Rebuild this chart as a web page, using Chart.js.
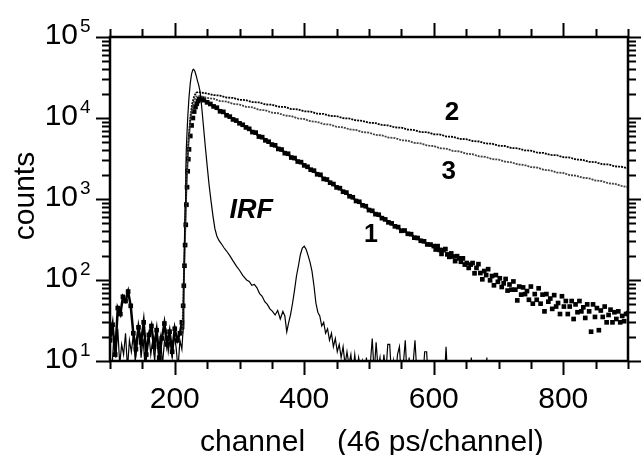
<!DOCTYPE html>
<html>
<head>
<meta charset="utf-8">
<script src="https://cdn.jsdelivr.net/npm/chart.js@4/dist/chart.umd.min.js"></script>
<style>
  html, body { margin: 0; padding: 0; background: #fff; }
  #wrap { width: 641px; height: 455px; position: relative; }
</style>
</head>
<body>
<div id="wrap"><canvas id="decay-chart"></canvas></div>
<script>
// Fluorescence decay curves, counts (log) vs channel (46 ps/channel)

const xTickLabels = [200, 400, 600, 800];
const yTickExponents = [1, 2, 3, 4, 5];

// instrument response function
const irfChannels = [100,103,106,109,112,115,118,121,124,127,130,133,136,139,142,145,148,151,154,157,160,163,166,169,172,175,178,181,184,187,190,193,196,199,202,205,208,211,
  213,214,215,216,217,218,220,222,224,226,228,229,231,233,235,237,239,241,244,247,250,253,256,259,262,265,268,272,276,280,285,290,296,300,305,311,315,319,323,327,331,335,339,343,347,351,355,359,363,367,370,373,376,379,382,385,388,391,394,397,400,403,406,409,412,415,418,421,424,427,430,433,436,439,442,445,448,451,454,457,460,463,466,469,472,475,478,481,484,487,490,493,496,499,502,505,508,511,514,517,520,523,526,529,532,535,538,541,544,547,550,553,556,559,562,565,568,571,574,577,580,583,586,589,592,595,598,601,604,607,610,613,616,619,622,625,640,656,658,660,680,682,684,700];
const irfCounts = [12,8,20,11,25,9,16,12,22,8,18,13,21,10,17,24,11,19,9,15,22,12,18,10,24,14,20,9,17,23,13,19,11,21,15,8,18,14,
  25,90,300,900,2200,4500,10000,18000,27000,35000,39500,40000,38000,33500,29000,25500,21500,15500,8500,4600,2600,1500,950,620,430,350,310,280,250,228,200,172,145,132,114,100,96,86,88,80,68,63,54,50,44,41,37,42,33,41,36,23,30,38,52,75,112,150,205,248,262,238,200,165,128,85,52,40,36,27,30,22,25,18,22,15,19,13,16,11,15,9,13,9,12,7,12,7,11,8,10,6,11,6,9,19,7,17,8,11,6,12,7,16,16,6,10,6,12,15,6,9,18,6,11,6,9,18,7,5,10,6,13,13,5,8,5,6,5,6,5,6,5,15,5,6,5,5,11,5,5,11,5,5];

// curve 1
const curve1Channels = [100,104,108,112,116,120,124,128,132,136,140,144,148,152,156,160,164,168,172,176,180,184,188,192,196,200,204,208,
  211,213,214,215,216,217,218,219,220,221,222,224,226,228,230,232,234,236,238,240,242,
  245,250,255,260,265,270,275,280,285,290,295,300,305,310,315,320,325,330,335,340,345,350,355,360,365,370,375,380,385,390,395,400,
  405,410,415,420,425,430,435,440,445,450,455,460,465,470,475,480,485,490,495,500,505,510,515,520,525,530,535,540,545,550,555,560,
  565,570,575,580,585,590,595,
  600,603,606,609,612,615,618,621,624,627,
  630,633,636,639,642,645,648,651,654,657,
  660,663,666,669,672,675,678,681,684,687,
  690,693,696,699,702,705,708,711,714,717,
  720,723,726,729,732,735,738,741,744,747,
  750,753,756,759,762,765,768,771,774,777,
  780,783,786,789,792,795,798,801,804,807,
  810,813,816,819,822,825,828,831,834,837,
  840,843,846,849,852,855,858,861,864,867,
  870,873,876,879,882,885,888,891,894,897,
  900];
const curve1Counts = [18,28,12,45,38,62,55,72,48,22,14,26,17,30,12,21,27,15,24,11,19,29,16,23,13,25,18,22,
  30,48,85,150,270,480,850,1400,2200,3100,4100,6000,8100,10000,12000,13700,15000,16200,17000,17400,17300,
  16600,15600,14900,13900,13400,12100,11900,10800,10400,9600,9300,8600,8250,7650,7350,6700,6600,5900,5800,5300,
  5100,4700,4600,4150,4080,3680,3620,3250,3200,2900,2850,2600,2500,2300,2240,2020,1990,1770,1740,1590,
  1530,1390,1360,1230,1200,1080,1050,945,925,835,815,730,715,650,640,580,560,515,500,460,
  450,405,408,372,368,333,330,305,300,275,274,
  262,238,262,235,210,234,241,207,193,213,
  195,171,197,185,168,185,155,162,141,155,
  162,121,141,157,122,102,129,115,136,99,
  112,86,115,95,105,82,91,103,74,88,
  76,96,76,56,83,66,81,67,73,57,
  83,51,67,57,79,51,66,41,67,54,
  59,44,65,47,52,38,63,47,55,38,
  47,55,33,50,40,55,41,46,34,50,
  41,23,50,35,45,24,42,35,47,30,
  37,43,30,40,33,41,30,36,31,38,
  39];

// curve 2
const curve2Channels = [212,215,218,221,224,227,230,233,236,240,250,260,270,280,290,300,310,320,330,340,350,360,370,380,390,400,
  410,420,430,440,450,460,470,480,490,500,510,520,530,540,550,560,570,580,590,600,610,620,630,640,650,660,670,680,690,700,
  710,720,730,740,750,760,770,780,790,800,810,820,830,840,850,860,870,880,890,900];
const curve2Counts = [25,200,1500,5000,10000,15000,18500,20500,21000,
  20600,20100,19200,18900,17900,17700,16800,16600,15700,15600,14700,14600,13800,13700,12900,12800,12100,12000,11300,11250,
  10600,10550,9950,9850,9350,9200,8750,8650,8200,8100,7650,7600,7200,7100,6700,6680,6300,6250,5900,5850,
  5520,5480,5200,5130,4850,4820,4550,4510,4260,4220,3990,3950,3730,3700,3500,3470,3280,3250,3070,3040,
  2880,2850,2690,2670,2530,2500,2380];

// curve 3
const curve3Channels = curve2Channels;
const curve3Counts = [22,180,1300,4500,9000,13500,16500,18200,18800,
  18600,17700,17300,16200,15950,14950,14650,13750,13550,12650,12450,11650,11450,10750,10550,9880,9720,9080,8950,8400,
  8290,7790,7680,7220,7110,6690,6600,6190,6110,5740,5660,5310,5250,4930,4860,4560,4510,4230,4170,3910,
  3870,3630,3570,3360,3310,3110,3070,2890,2840,2670,2630,2480,2440,2290,2260,2120,2100,1970,1940,1830,
  1800,1690,1660,1560,1540,1450,1400];

// curve labels, anchored in data units
const annotations = [
  { text: '1', x: 503, y: 360, font: 'bold 25px' },
  { text: '2', x: 628, y: 11500, font: 'bold 26px' },
  { text: '3', x: 623, y: 2150, font: 'bold 26px' },
  { text: 'IRF', x: 318, y: 730, font: 'italic bold 27px' }
];

const FONT = '"Liberation Sans", Arial, sans-serif';

function toPoints(xs, ys) {
  return xs.map((x, i) => ({ x: x, y: ys[i] }));
}

// curve 1 is drawn as a joined band except on the rising edge and the noisy tail
function curve1Segment(ctx) {
  const a = ctx.p0.parsed.x;
  const b = ctx.p1.parsed.x;
  if (a >= 595) return 'rgba(0,0,0,0)';
  if (a >= 211 && b <= 240) return 'rgba(0,0,0,0)';
  return '#000';
}

// frame, outward ticks, tick labels, titles and curve labels
const framePlugin = {
  id: 'frame',
  afterDatasetsDraw(chart) {
    const { ctx, chartArea: a, scales: { x, y } } = chart;
    ctx.save();
    ctx.strokeStyle = '#000';
    ctx.fillStyle = '#000';

    ctx.lineWidth = 2;
    ctx.beginPath();
    for (let v = x.min; v <= x.max; v += 50) {
      const px = Math.round(x.getPixelForValue(v)) + 0.5;
      const len = v % 200 === 0 ? 14 : 8;
      ctx.moveTo(px, a.bottom); ctx.lineTo(px, a.bottom + len);
      ctx.moveTo(px, a.top); ctx.lineTo(px, a.top - len);
    }
    for (const e of yTickExponents) {
      for (let m = 1; m <= 9; m++) {
        const val = m * Math.pow(10, e);
        if (val > y.max) break;
        const py = Math.round(y.getPixelForValue(val)) + 0.5;
        const len = m === 1 ? 14 : 8;
        ctx.moveTo(a.left, py); ctx.lineTo(a.left - len, py);
        ctx.moveTo(a.right, py); ctx.lineTo(a.right + len, py);
      }
    }
    ctx.stroke();

    ctx.lineWidth = 2.5;
    ctx.strokeRect(a.left, a.top, a.right - a.left, a.bottom - a.top);

    // x tick labels
    ctx.font = '30px ' + FONT;
    ctx.textAlign = 'center';
    ctx.textBaseline = 'alphabetic';
    for (const v of xTickLabels) {
      ctx.fillText(String(v), x.getPixelForValue(v), 408);
    }

    // y tick labels 10^n
    for (const e of yTickExponents) {
      const py = y.getPixelForValue(Math.pow(10, e));
      ctx.font = '30px ' + FONT;
      ctx.textAlign = 'right';
      ctx.fillText('10', 78, py + 6.5);
      ctx.font = '19px ' + FONT;
      ctx.textAlign = 'left';
      ctx.fillText(String(e), 80, py - 5);
    }

    // axis titles
    ctx.font = '30px ' + FONT;
    ctx.textAlign = 'left';
    ctx.fillText('channel', 200, 451);
    ctx.fillText('(46 ps/channel)', 337, 451);

    ctx.save();
    ctx.translate(34, (a.top + a.bottom) / 2 - 3);
    ctx.rotate(-Math.PI / 2);
    ctx.textAlign = 'center';
    ctx.fillText('counts', 0, 0);
    ctx.restore();

    // curve labels
    ctx.textAlign = 'center';
    ctx.textBaseline = 'middle';
    for (const ann of annotations) {
      ctx.font = ann.font + ' ' + FONT;
      ctx.fillText(ann.text, x.getPixelForValue(ann.x), y.getPixelForValue(ann.y));
    }
    ctx.restore();
  }
};

new Chart(document.getElementById('decay-chart'), {
  type: 'scatter',
  data: {
    datasets: [
      {
        label: 'IRF',
        data: toPoints(irfChannels, irfCounts),
        showLine: true,
        borderColor: '#000',
        borderWidth: 1.2,
        pointRadius: 0,
        clip: 0
      },
      {
        label: '3',
        data: toPoints(curve3Channels, curve3Counts),
        showLine: true,
        borderColor: '#444',
        borderWidth: 1.8,
        borderDash: [2, 1],
        pointRadius: 0,
        clip: 0
      },
      {
        label: '2',
        data: toPoints(curve2Channels, curve2Counts),
        showLine: true,
        borderColor: '#000',
        borderWidth: 1.8,
        borderDash: [2, 1],
        pointRadius: 0,
        clip: 0
      },
      {
        label: '1',
        data: toPoints(curve1Channels, curve1Counts),
        showLine: true,
        borderColor: '#000',
        borderWidth: 2.5,
        segment: { borderColor: curve1Segment },
        pointStyle: 'rect',
        pointRadius: 3.3,
        backgroundColor: '#000',
        pointBorderWidth: 0,
        clip: 0
      }
    ]
  },
  options: {
    responsive: true,
    maintainAspectRatio: false,
    animation: false,
    events: [],
    layout: {
      padding: { left: 110, right: 13, top: 37, bottom: 94 }
    },
    scales: {
      x: { type: 'linear', min: 100, max: 900, display: false },
      y: { type: 'logarithmic', min: 10, max: 100000, display: false }
    },
    plugins: {
      legend: { display: false },
      tooltip: { enabled: false }
    }
  },
  plugins: [framePlugin]
});
</script>
</body>
</html>
